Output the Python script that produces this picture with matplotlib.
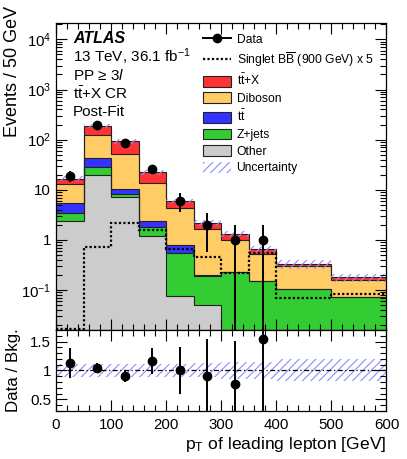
import numpy as np
import matplotlib
matplotlib.use("Agg")
import matplotlib.pyplot as plt
from matplotlib.lines import Line2D
from matplotlib.patches import Patch
from matplotlib.ticker import LogLocator, MultipleLocator, FuncFormatter, NullFormatter, FixedLocator

plt.rcParams.update({
    "font.family": ["Liberation Sans", "DejaVu Sans"],
    "mathtext.fontset": "custom",
    "mathtext.rm": "Liberation Sans",
    "mathtext.it": "Liberation Sans:italic",
    "mathtext.bf": "Liberation Sans:bold",
    "hatch.linewidth": 0.8,
    "axes.linewidth": 0.9,
})

# ---- data (events / 50 GeV) ----
EDGES = [0, 50, 100, 150, 200, 250, 300, 350, 400, 500, 600]
OTHER = [2.34, 19.9, 7.1, 1.21, 0.077, 0.0495, 0, 0, 0, 0]
ZJETS = [1.10, 8.4, 1.3, 0.59, 0.47, 0.146, 0.229, 0.149, 0.105, 0.073]
TTBAR = [2.0, 14.6, 1.9, 0.61, 0.25, 0.004, 0, 0, 0, 0]
DIBOSON = [7.56, 79.1, 40.7, 11.19, 3.6, 1.42, 0.77, 0.37, 0.2, 0.089]
TTX = [3.8, 66.0, 43.0, 8.7, 1.6, 0.58, 0.32, 0.13, 0.025, 0.018]
DATA = [19, 197, 85, 26, 6, 2, 1, 1, 0, 0]
SIGNAL_X5 = [0.0165, 0.74, 2.17, 1.6, 0.66, 0.456, 0.22, 0.55, 0.069, 0.083]
UNC_FRAC = [0.11, 0.11, 0.11, 0.11, 0.11, 0.12, 0.15, 0.15, 0.19, 0.19]

STACK = [
    ("Other", OTHER, "#cccccc"),
    ("Z+jets", ZJETS, "#33cc33"),
    (r"$\mathregular{t\bar{t}}$", TTBAR, "#3333ff"),
    ("Diboson", DIBOSON, "#ffcc66"),
    (r"$\mathregular{t\bar{t}}$+X", TTX, "#ff3333"),
]
HATCH_COL = "#8c8cff"

edges = np.array(EDGES, dtype=float)
centers = 0.5 * (edges[1:] + edges[:-1])
data = np.array(DATA, dtype=float)

fig = plt.figure(figsize=(4.07, 4.59), dpi=100)
ax = fig.add_axes([0.1376, 0.2810, 0.812, 0.6695])
rx = fig.add_axes([0.1376, 0.1048, 0.812, 0.1763], sharex=ax)

# stacked backgrounds
lower = np.zeros(len(centers))
for label, vals, col in STACK:
    top = lower + np.array(vals)
    ax.stairs(top, edges, baseline=lower, fill=True, color=col, lw=0)
    lower = top
lower = np.zeros(len(centers))
for label, vals, col in STACK:
    top = lower + np.array(vals)
    ax.stairs(top, edges, baseline=None, color="#222222", lw=0.8)
    lower = top
total = lower
unc = np.array(UNC_FRAC)
ax.stairs(total * (1 + unc), edges, baseline=total * (1 - unc), fill=True,
          facecolor="none", edgecolor=HATCH_COL, hatch="////", lw=0)

# signal
ax.stairs(SIGNAL_X5, edges, baseline=None, color="black", lw=1.6, ls=(0, (1, 1)))

# data
m = data > 0
err = np.sqrt(data)
lo = np.where(data - err > 0, err, data - 1e-4)
ax.errorbar(centers[m], data[m], yerr=[lo[m], err[m]], fmt="o", color="black",
            ms=6, lw=1.4, capsize=0, zorder=5)

ax.set_yscale("log")
ax.set_xlim(0, 600)
ax.set_ylim(0.016, 2.15e4)


def log_fmt(v, pos):
    e = int(round(np.log10(v)))
    if e == 0:
        return "1"
    if e == 1:
        return "10"
    return r"$\mathregular{10^{%d}}$" % e


ax.yaxis.set_major_locator(FixedLocator([0.1, 1, 10, 100, 1000, 10000]))
ax.yaxis.set_minor_locator(LogLocator(base=10, subs=np.arange(2, 10), numticks=20))
ax.yaxis.set_major_formatter(FuncFormatter(log_fmt))
ax.yaxis.set_minor_formatter(NullFormatter())
ax.set_ylabel("Events / 50 GeV", fontsize=13, loc="top")
ax.yaxis.set_label_coords(-0.107, 1.055)

# ratio
ratio = np.divide(data, total)
rerr = np.sqrt(data) / total
rx.stairs(1 + unc, edges, baseline=1 - unc, fill=True, facecolor="none",
          edgecolor=HATCH_COL, hatch="////", lw=0)
rx.axhline(1, color="black", lw=0.9, ls=(0, (4, 2, 1, 2)))
rx.errorbar(centers[m], ratio[m], yerr=rerr[m], fmt="o", color="black",
            ms=6, lw=1.4, capsize=0, zorder=5)
rx.set_ylim(0.3, 1.7)
rx.yaxis.set_major_locator(FixedLocator([0.5, 1.0, 1.5]))
rx.yaxis.set_major_formatter(FuncFormatter(lambda v, p: "%g" % v))
rx.yaxis.set_minor_locator(MultipleLocator(0.1))
rx.set_ylabel("Data / Bkg.", fontsize=12.2)
rx.yaxis.set_label_coords(-0.107, 0.5)
rx.set_xlabel(r"$\mathregular{p_{T}}$ of leading lepton [GeV]", fontsize=12.6, loc="right", labelpad=2)
rx.xaxis.set_major_locator(MultipleLocator(100))
rx.xaxis.set_minor_locator(MultipleLocator(20))

for a in (ax, rx):
    a.tick_params(which="both", direction="in", top=True, right=True, labelsize=10.8)
    a.tick_params(which="major", length=8, width=0.8)
    a.tick_params(which="minor", length=4, width=0.8)
ax.tick_params(labelbottom=False)
rx.tick_params(which="major", axis="x", pad=5)

# labels
tx = 0.0514
ax.text(tx, 0.950, "ATLAS", transform=ax.transAxes, fontsize=11.5, fontweight="bold",
        style="italic", va="center")
ax.text(tx, 0.888, r"13 TeV, 36.1 fb$^{\mathregular{-1}}$", transform=ax.transAxes, fontsize=11, va="center")
ax.text(tx, 0.828, r"PP ≥ 3$\mathit{l}$", transform=ax.transAxes, fontsize=11, va="center")
ax.text(tx, 0.768, r"$\mathregular{t\bar{t}}$+X CR", transform=ax.transAxes, fontsize=11, va="center")
ax.text(tx, 0.709, "Post-Fit", transform=ax.transAxes, fontsize=11, va="center")

handles = [
    Line2D([0], [0], color="black", marker="o", ms=6, lw=1.4),
    Line2D([0], [0], color="black", lw=1.6, ls=(0, (1, 1))),
]
labels = ["Data", r"Singlet $\mathregular{B\overline{B}}$ (900 GeV) x 5"]
for label, vals, col in STACK[::-1]:
    handles.append(Patch(facecolor=col, edgecolor="#222222", lw=0.8))
    labels.append(label)
handles.append(Patch(facecolor="none", edgecolor=HATCH_COL, hatch="////", lw=0))
labels.append("Uncertainty")
ax.legend(handles, labels, loc="upper left", bbox_to_anchor=(0.444, 0.966), frameon=False,
          fontsize=8.7, handlelength=2.3, handleheight=1.0, handletextpad=0.5,
          labelspacing=0.34, borderpad=0, borderaxespad=0)

fig.savefig("out.png", dpi=100)
